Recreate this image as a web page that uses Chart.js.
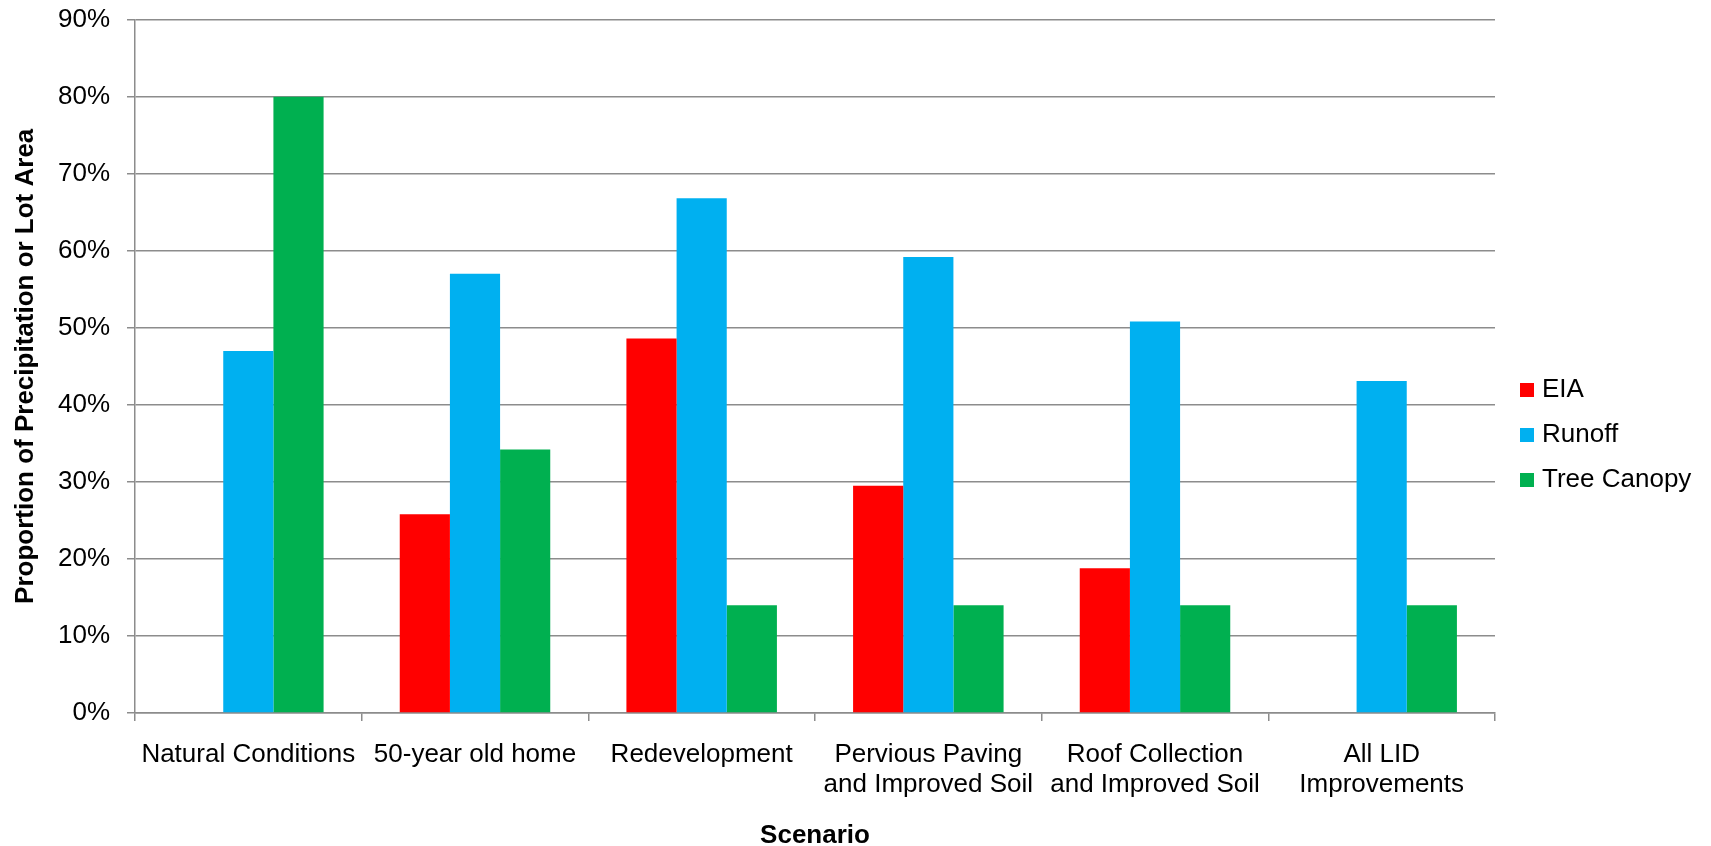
<!DOCTYPE html>
<html lang="en">
<head>
    <meta charset="UTF-8">
    <title>Proportion of Precipitation or Lot Area by Scenario</title>
    <script src="https://cdn.jsdelivr.net/npm/chart.js"></script>
    <style>
        body {
            margin: 0;
            padding: 0;
            background-color: white;
        }
        .wrap {
            width: 1711px;
            height: 846px;
        }
    </style>
</head>
<body>
    <div class="wrap">
        <canvas id="scenarioChart" width="1711" height="846"></canvas>
    </div>
    <script>
        const scenarios = [
            'Natural Conditions',
            '50-year old home',
            'Redevelopment',
            ['Pervious Paving', 'and Improved Soil'],
            ['Roof Collection', 'and Improved Soil'],
            ['All LID', 'Improvements']
        ];
        const eia = [null, 25.8, 48.6, 29.5, 18.8, null];
        const runoff = [47, 57, 66.8, 59.2, 50.8, 43.1];
        const treeCanopy = [80, 34.2, 14, 14, 14, 14];
        const seriesNames = ['EIA', 'Runoff', 'Tree Canopy'];
        const seriesColors = ['#FF0000', '#00B0F0', '#00B050'];

        const font = 'Liberation Sans, Arial, sans-serif';
        const gridColor = '#8c8c8c';

        // legend drawn by hand so it sits where Excel put it
        const sideLegend = {
            id: 'sideLegend',
            afterDraw(chart) {
                const ctx = chart.ctx;
                const x = chart.chartArea.right + 25;
                ctx.save();
                ctx.font = '26px ' + font;
                ctx.textBaseline = 'middle';
                chart.data.datasets.forEach((ds, i) => {
                    const y = 390 + i * 45;
                    ctx.fillStyle = ds.backgroundColor;
                    ctx.fillRect(x, y - 7, 14, 14);
                    ctx.fillStyle = '#000';
                    ctx.fillText(ds.label, x + 22, y);
                });
                ctx.restore();
            }
        };

        const datasets = [eia, runoff, treeCanopy].map((values, i) => ({
            label: seriesNames[i],
            data: values,
            backgroundColor: seriesColors[i],
            borderWidth: 0,
            barPercentage: 1.0,
            categoryPercentage: 0.664
        }));

        new Chart(document.getElementById('scenarioChart'), {
            type: 'bar',
            data: { labels: scenarios, datasets: datasets },
            plugins: [sideLegend],
            options: {
                responsive: false,
                animation: false,
                layout: {
                    padding: { left: 0, right: 216, top: 4, bottom: 0 }
                },
                plugins: {
                    legend: { display: false },
                    tooltip: { enabled: false }
                },
                scales: {
                    x: {
                        grid: {
                            drawOnChartArea: false,
                            drawTicks: true,
                            tickLength: 8,
                            color: gridColor,
                            lineWidth: 1.5
                        },
                        border: { color: gridColor, width: 1.5 },
                        ticks: {
                            color: '#000',
                            font: { family: font, size: 26, lineHeight: 1.15 },
                            padding: 19,
                            maxRotation: 0,
                            minRotation: 0,
                            autoSkip: false
                        },
                        title: {
                            display: true,
                            text: 'Scenario',
                            color: '#000',
                            font: { family: font, size: 26, weight: 'bold' },
                            padding: { top: 1, bottom: -5 }
                        }
                    },
                    y: {
                        min: 0,
                        max: 90,
                        afterFit(scale) {
                            scale.width = 135;
                        },
                        grid: {
                            color: gridColor,
                            lineWidth: 1.5,
                            tickLength: 8
                        },
                        border: { color: gridColor, width: 1.5 },
                        ticks: {
                            stepSize: 10,
                            color: '#000',
                            // small lineHeight keeps the top label from pushing the plot down
                            font: { family: font, size: 26, lineHeight: 0.2 },
                            padding: 17,
                            callback: v => v + '%'
                        },
                        title: {
                            display: true,
                            text: 'Proportion of Precipitation or Lot Area',
                            color: '#000',
                            font: { family: font, size: 26, weight: 'bold' },
                            padding: { top: 10, bottom: 0 }
                        }
                    }
                }
            }
        });
    </script>
</body>
</html>
